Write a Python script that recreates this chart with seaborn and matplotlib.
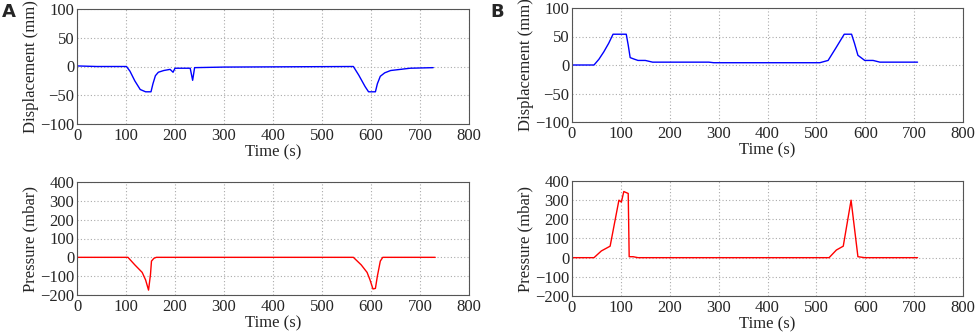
import matplotlib
matplotlib.use("Agg")
import matplotlib.pyplot as plt
import seaborn as sns
import pandas as pd

# Panel A displacement
a_disp_t = [0, 40, 101, 108, 118, 129, 140, 151, 155, 160, 166, 177, 190, 196, 200, 231, 236, 240, 300, 564, 575, 588, 595, 609, 613, 619, 628, 640, 660, 680, 727]
a_disp_v = [1, 0, 0, -8, -25, -40, -44, -44, -30, -16, -10, -7, -5, -10, -3, -3, -24, -2, -1, 0, -15, -35, -44, -44, -30, -17, -11, -7, -5, -3, -2]
# Panel A pressure
a_pres_t = [0, 104, 118, 133, 140, 146, 150, 152, 157, 162, 564, 580, 592, 598, 604, 609, 613, 619, 624, 731]
a_pres_v = [0, 0, -40, -80, -120, -174, -90, -20, -5, 0, 0, -40, -80, -120, -168, -165, -100, -20, 0, 0]
# Panel B displacement
b_disp_t = [0, 45, 55, 65, 75, 84, 111, 115, 119, 125, 135, 150, 165, 280, 290, 507, 524, 540, 557, 572, 578, 585, 599, 616, 630, 707]
b_disp_v = [0, 0, 10, 23, 38, 54, 54, 35, 13, 11, 8, 8, 5, 5, 4, 4, 8, 30, 54, 54, 38, 17, 8, 8, 5, 5]
# Panel B pressure
b_pres_t = [0, 45, 60, 78, 96, 101, 106, 115, 117, 125, 135, 526, 541, 555, 571, 585, 599, 707]
b_pres_v = [0, 0, 35, 60, 300, 290, 345, 335, 5, 5, 0, 0, 40, 60, 300, 5, 0, 0]

xticks = [0, 100, 200, 300, 400, 500, 600, 700, 800]
disp_ticks = [-100, -50, 0, 50, 100]
pres_ticks = [-200, -100, 0, 100, 200, 300, 400]

sns.set_style("white")
plt.rcParams['font.family'] = ['Liberation Serif', 'DejaVu Serif']
plt.rcParams['font.size'] = 12

fig = plt.figure(figsize=(9.75, 3.34), dpi=100)

def make(rect, t, v, color, ylabel, yticks):
    ax = fig.add_axes(rect)
    df = pd.DataFrame({"t": t, "v": v})
    sns.lineplot(data=df, x="t", y="v", color=color, linewidth=1.0, ax=ax)
    ax.set_xlim(0, 800)
    ax.set_ylim(yticks[0], yticks[-1])
    ax.set_xticks(xticks)
    ax.set_yticks(yticks)
    ax.set_xlabel("Time (s)", fontsize=12, labelpad=0)
    ax.set_ylabel(ylabel, fontsize=12, labelpad=1)
    ax.grid(True, linestyle=(0, (1, 2)), color="#aaaaaa", linewidth=0.8)
    for s in ax.spines.values():
        s.set_color("#555555")
        s.set_linewidth(0.8)
    ax.tick_params(axis="x", labelsize=12, length=0, pad=3)
    ax.tick_params(axis="y", labelsize=12, length=0, pad=2)
    return ax

make([77/975, 1-124/334, 392/975, 115/334], a_disp_t, a_disp_v, "#0000ff", "Displacement (mm)", disp_ticks)
make([77/975, 1-295/334, 392/975, 113/334], a_pres_t, a_pres_v, "#ff0000", "Pressure (mbar)", pres_ticks)
make([572/975, 1-122/334, 391/975, 114/334], b_disp_t, b_disp_v, "#0000ff", "Displacement (mm)", disp_ticks)
make([572/975, 1-296/334, 391/975, 115/334], b_pres_t, b_pres_v, "#ff0000", "Pressure (mbar)", pres_ticks)

fig.text(2/975, 1-12/334, "A", fontsize=13, fontweight="bold", family="DejaVu Sans", va="center", ha="left")
fig.text(490/975, 1-12/334, "B", fontsize=13, fontweight="bold", family="DejaVu Sans", va="center", ha="left")

fig.savefig("out.png", dpi=100)
